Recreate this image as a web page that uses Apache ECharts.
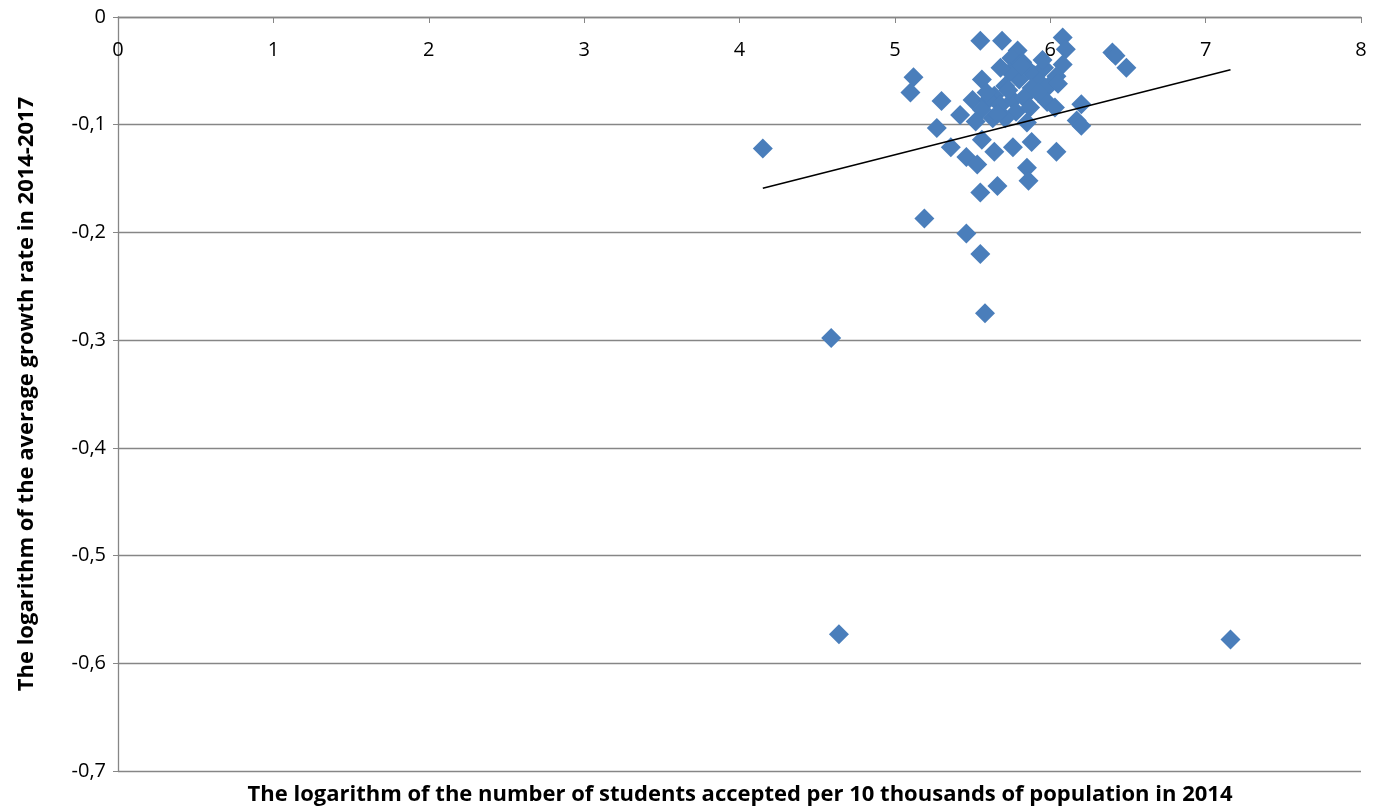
<!DOCTYPE html>
<html>
<head>
<meta charset="utf-8">
<script src="https://cdn.jsdelivr.net/npm/echarts@6/dist/echarts.min.js"></script>
<style>
  html, body { margin: 0; padding: 0; background: #fff; }
  #chart { width: 1373px; height: 806px; }
</style>
</head>
<body>
<div id="chart"></div>
<script>
// Log of students accepted per 10k population (2014) vs log of average growth rate (2014-2017)
const logStudents = [
  4.15, 4.59, 4.64, 7.16, 5.12, 5.10, 5.30, 5.27, 5.19, 5.46,
  5.55, 5.58, 5.55, 5.69, 6.08, 6.10, 6.08, 6.40, 6.42, 6.49,
  5.56, 6.20, 6.17, 6.20, 6.04, 5.76, 5.85, 5.86, 5.66, 5.55,
  5.36, 5.46, 5.53, 5.56, 5.64, 5.88, 5.42, 5.50,
  5.79, 5.75, 5.82, 5.86, 5.90, 5.96, 5.93, 5.99, 6.04, 6.05,
  5.88, 5.80, 5.74, 5.68, 5.71, 5.64, 5.60, 5.68, 5.76, 5.83,
  5.78, 5.71, 5.63, 5.56, 5.52, 5.87, 5.98, 6.03, 5.92, 5.85,
  5.73, 5.59, 5.66, 5.81, 5.95
];
const logGrowth = [
  -0.122, -0.298, -0.573, -0.578, -0.056, -0.070, -0.078, -0.103, -0.187, -0.201,
  -0.220, -0.275, -0.022, -0.022, -0.019, -0.030, -0.044, -0.033, -0.036, -0.047,
  -0.058, -0.081, -0.096, -0.101, -0.125, -0.121, -0.140, -0.152, -0.157, -0.163,
  -0.121, -0.130, -0.137, -0.114, -0.125, -0.116, -0.091, -0.077,
  -0.031, -0.038, -0.042, -0.049, -0.054, -0.047, -0.060, -0.064, -0.055, -0.062,
  -0.066, -0.058, -0.051, -0.047, -0.064, -0.073, -0.077, -0.082, -0.077, -0.075,
  -0.088, -0.094, -0.094, -0.086, -0.097, -0.084, -0.079, -0.084, -0.070, -0.098,
  -0.068, -0.070, -0.090, -0.045, -0.040
];
// Linear trend line endpoints (fitted values at min and max x)
const trendX = [4.15, 7.16];
const trendY = [-0.159, -0.049];

const yTicks = [0, -0.1, -0.2, -0.3, -0.4, -0.5, -0.6, -0.7];

const points = logStudents.map((x, i) => [x, logGrowth[i]]);
const trend = trendX.map((x, i) => [x, trendY[i]]);

const fontFamily = "'Open Sans', 'Liberation Sans', sans-serif";
const chart = echarts.init(document.getElementById('chart'), null, { renderer: 'canvas' });

chart.setOption({
  animation: false,
  backgroundColor: '#ffffff',
  grid: { left: 118, right: 12, top: 17, bottom: 35, containLabel: false },
  xAxis: {
    type: 'value',
    position: 'top',
    min: 0, max: 8, interval: 1,
    axisLine: { show: true, onZero: false, lineStyle: { color: '#868686', width: 1.3 } },
    axisTick: { show: true, inside: true, length: 6, lineStyle: { color: '#868686' } },
    axisLabel: { inside: true, margin: 23, color: '#000', fontSize: 20, fontFamily },
    splitLine: { show: false }
  },
  yAxis: {
    type: 'value',
    min: -0.7, max: 0, interval: 0.1,
    axisLine: { show: true, lineStyle: { color: '#868686', width: 1.3 } },
    axisTick: { show: true, length: 5, lineStyle: { color: '#868686' } },
    axisLabel: {
      color: '#000', fontSize: 20, fontFamily, margin: 12,
      formatter: v => {
        const r = Math.round(v * 10) / 10;
        const t = yTicks.find(k => Math.abs(k - r) < 1e-9);
        if (t === undefined) return '';
        return t === 0 ? '0' : t.toFixed(1).replace('.', ',');
      }
    },
    splitLine: { show: true, lineStyle: { color: '#868686', width: 1.3 } }
  },
  series: [
    {
      type: 'scatter',
      data: points,
      symbol: 'diamond',
      symbolSize: 20,
      itemStyle: { color: '#4a7ebb', opacity: 1 },
      z: 3
    },
    {
      type: 'line',
      data: trend,
      symbol: 'none',
      lineStyle: { color: '#000', width: 1.6 },
      z: 4
    }
  ],
  graphic: [
    {
      type: 'text',
      x: 740,
      y: 795,
      style: {
        text: 'The logarithm of the number of students accepted per 10 thousands of population in 2014',
        font: 'bold 22px ' + fontFamily,
        fill: '#000',
        align: 'center',
        verticalAlign: 'middle'
      }
    },
    {
      type: 'text',
      x: 27,
      y: 394,
      rotation: Math.PI / 2,
      style: {
        text: 'The logarithm of the average growth rate in 2014-2017',
        font: 'bold 22px ' + fontFamily,
        fill: '#000',
        align: 'center',
        verticalAlign: 'middle'
      }
    }
  ]
});
</script>
</body>
</html>
